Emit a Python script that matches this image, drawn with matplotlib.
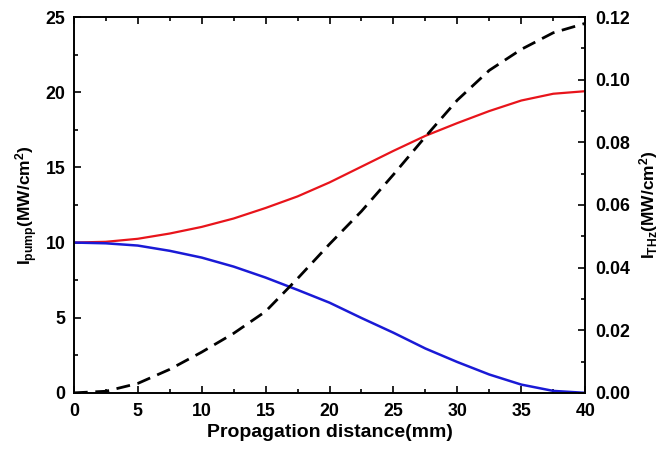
import numpy as np
import matplotlib
matplotlib.use('Agg')
import matplotlib.pyplot as plt
from matplotlib.ticker import MultipleLocator, FormatStrFormatter

plt.rcParams['font.family'] = ['Liberation Sans', 'DejaVu Sans']
plt.rcParams['font.weight'] = 'bold'
plt.rcParams['mathtext.fontset'] = 'custom'
plt.rcParams['mathtext.bf'] = 'Liberation Sans:bold'
plt.rcParams['mathtext.rm'] = 'Liberation Sans:bold'
plt.rcParams['mathtext.default'] = 'bf'

# propagation distance (mm)
distance = [0, 2.5, 5, 7.5, 10, 12.5, 15, 17.5, 20, 22.5, 25, 27.5, 30, 32.5, 35, 37.5, 40]
# pump intensities (MW/cm^2), left axis
pump_red = [10.0, 10.05, 10.25, 10.6, 11.04, 11.6, 12.3, 13.07, 14.0, 15.05, 16.1,
            17.1, 17.95, 18.75, 19.45, 19.9, 20.07]
pump_blue = [10.0, 9.95, 9.8, 9.45, 9.0, 8.4, 7.67, 6.85, 6.0, 4.98, 4.0,
             2.95, 2.05, 1.22, 0.55, 0.13, 0.0]
# THz intensity (MW/cm^2), right axis
thz = [0.0, 0.0005, 0.003, 0.0075, 0.013, 0.019, 0.026, 0.0365, 0.0475, 0.058, 0.0697,
       0.0818, 0.0935, 0.103, 0.1097, 0.115, 0.118]

fig = plt.figure(figsize=(6.65, 4.5), dpi=100)
ax = fig.add_axes([0.111, 0.127, 0.769, 0.835])
ax2 = ax.twinx()

ax.plot(distance, pump_red, color='#e8141b', lw=1.6)
ax.plot(distance, pump_blue, color='#1a1ad6', lw=1.8)
lw_d = 2.0
ax2.plot(distance, thz, color='black', lw=lw_d, dashes=(10 / lw_d, 5.5 / lw_d))

ax.set_xlim(0, 40)
ax.set_ylim(0, 25)
ax2.set_ylim(0, 0.12)

ax.xaxis.set_major_locator(MultipleLocator(5))
ax.xaxis.set_minor_locator(MultipleLocator(2.5))
ax.yaxis.set_major_locator(MultipleLocator(5))
ax.yaxis.set_minor_locator(MultipleLocator(2.5))
ax2.yaxis.set_major_locator(MultipleLocator(0.02))
ax2.yaxis.set_minor_locator(MultipleLocator(0.01))
ax2.yaxis.set_major_formatter(FormatStrFormatter('%.2f'))

ax.tick_params(which='both', direction='in', top=True, right=False, labelsize=12.8, width=1.2)
ax.tick_params(which='major', length=5)
ax.tick_params(which='minor', length=3)
ax.tick_params(axis='x', pad=7)
ax.tick_params(axis='y', pad=6)
ax2.tick_params(which='both', direction='in', labelsize=12.8, width=1.2, pad=7)
ax2.tick_params(which='major', length=5)
ax2.tick_params(which='minor', length=3)

for s in ax.spines.values():
    s.set_linewidth(1.2)
for s in ax2.spines.values():
    s.set_linewidth(1.2)

ax.set_xlabel('Propagation distance(mm)', fontsize=14, fontweight='bold', labelpad=3)
ax.set_ylabel(r'I$_{pump}$(MW/cm$^{2}$)', fontsize=12.5, fontweight='bold', labelpad=4)
ax2.set_ylabel(r'I$_{THz}$(MW/cm$^{2}$)', fontsize=12.5, fontweight='bold', labelpad=5)

fig.savefig('out.png', dpi=100)
